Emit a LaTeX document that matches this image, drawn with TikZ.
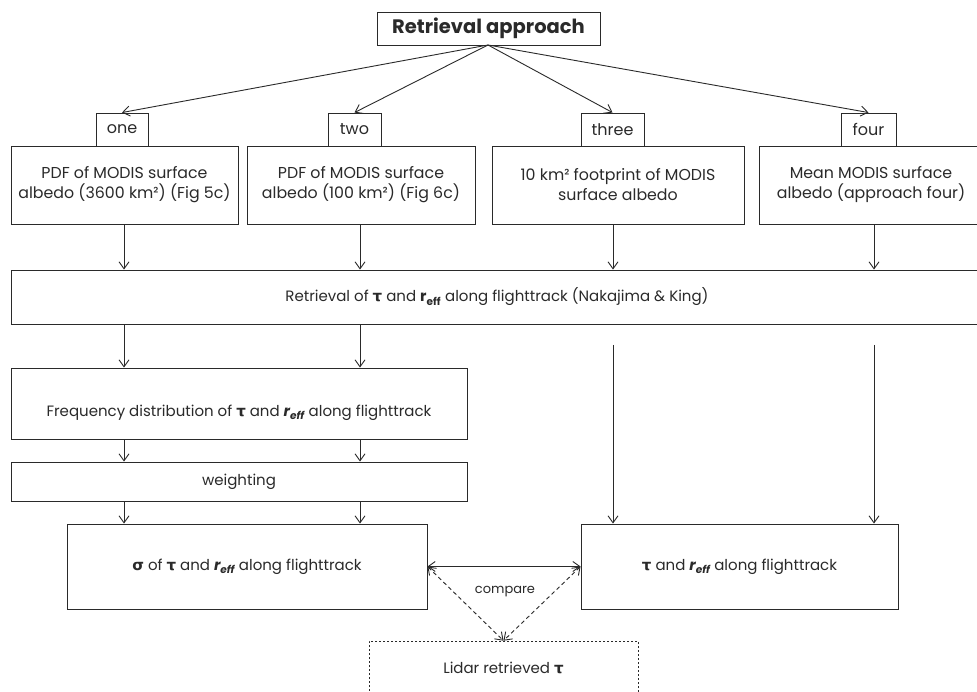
\documentclass[tikz,border=0pt]{standalone}
\usepackage{fontspec}
\setmainfont{Poppins}
\newfontfamily\grk{DejaVu Sans}
\usetikzlibrary{arrows.meta}
\definecolor{ink}{HTML}{2A2A2A}
\newcommand{\tauB}{{\grk\bfseries τ}}
\newcommand{\sigB}{{\grk\bfseries σ}}
\newcommand{\reffB}{{\bfseries r\textsubscript{eff}}}
\newcommand{\reffI}{{\bfseries\itshape r\textsubscript{eff}}}
\begin{document}
\begin{tikzpicture}[x=1pt,y=1pt,
  box/.style={draw=ink,line width=0.9pt,inner sep=0pt,align=center,font=\fontsize{15}{19}\selectfont,text=ink},
  rowbox/.style={box,font=\fontsize{15.8}{20}\selectfont},
  tag/.style={box,font=\fontsize{16}{18}\selectfont},
  arr/.style={draw=ink,line width=0.9pt,-{Straight Barb[length=7pt,width=10pt]}},
  darr/.style={draw=ink,line width=0.9pt,dash pattern=on 4pt off 3pt,{Straight Barb[length=7pt,width=10pt]}-{Straight Barb[length=7pt,width=10pt]}},
  lbl/.style={font=\fontsize{13}{15}\selectfont,text=ink,inner sep=0pt}]
\useasboundingbox (0,0) rectangle (977,-692);
\clip (0,0) rectangle (977,-692);
\fill[white] (0,0) rectangle (977,-692);
% columns
\coordinate (c1) at (124,0);
\coordinate (c2) at (360,0);
\coordinate (c3) at (613,0);
\coordinate (c4) at (874,0);
% nodes
\node[box,minimum width=223pt,minimum height=33pt,font=\fontsize{19.5}{22}\selectfont\bfseries] (top) at (488.5,-28.5) {Retrieval approach};
\node[tag,minimum width=52pt,minimum height=33pt] (one) at (122,-129.5) {one};
\node[tag,minimum width=53pt,minimum height=33pt] (two) at (354.5,-129.5) {two};
\node[tag,minimum width=63pt,minimum height=33pt] (three) at (612.5,-129.5) {three};
\node[tag,minimum width=55pt,minimum height=33pt] (four) at (868.5,-129.5) {four};
\node[rowbox,minimum width=227pt,minimum height=78pt] (b1) at (124.5,-185) {PDF of MODIS surface\\albedo (3600 km²) (Fig 5c)};
\node[rowbox,minimum width=228pt,minimum height=78pt] (b2) at (361,-185) {PDF of MODIS surface\\albedo (100 km²) (Fig 6c)};
\node[rowbox,minimum width=252pt,minimum height=78pt] (b3) at (618,-185) {10 km² footprint of MODIS\\surface albedo};
\node[rowbox,minimum width=224pt,minimum height=78pt] (b4) at (871,-185) {Mean MODIS surface\\albedo (approach four)};
\node[box,minimum width=972pt,minimum height=54pt] (ret) at (497,-297) {Retrieval of \tauB{} and \reffB{} along flighttrack (Nakajima \& King)};
\node[box,minimum width=456pt,minimum height=71pt] (freq) at (239,-403.5) {};
\node[lbl,font=\fontsize{15}{17}\selectfont] (freqt) at (239,-413) {Frequency distribution of \tauB{} and \reffI{} along flighttrack};
\node[box,minimum width=456pt,minimum height=39pt] (wgt) at (239,-481.5) {weighting};
\node[box,minimum width=360pt,minimum height=85pt] (sig) at (247,-566.5) {\sigB{} of \tauB{} and \reffI{} along flighttrack};
\node[box,minimum width=317pt,minimum height=85pt] (tr) at (739.5,-566.5) {\tauB{} and \reffI{} along flighttrack};
\node[draw=ink,line width=0.6pt,dash pattern=on 2pt off 2pt,minimum width=269pt,minimum height=98pt,inner sep=0pt] (lid) at (503.5,-690) {};
\node[lbl,font=\fontsize{15}{17}\selectfont] (lidt) at (503.5,-668) {Lidar retrieved \tauB};
\node[lbl] (cmp) at (505,-592) {compare};
% connectors from top
\coordinate (apex) at (488,-45);
\draw[arr] (apex) -- (one.north);
\draw[arr] (apex) -- (two.north);
\draw[arr] (apex) -- (three.north);
\draw[arr] (apex) -- (four.north);
% row 1 to retrieval
\draw[arr] (b1.south -| c1) -- (ret.north -| c1);
\draw[arr] (b2.south -| c2) -- (ret.north -| c2);
\draw[arr] (b3.south -| c3) -- (ret.north -| c3);
\draw[arr] (b4.south -| c4) -- (ret.north -| c4);
% retrieval to freq
\draw[arr] (ret.south -| c1) -- (freq.north -| c1);
\draw[arr] (ret.south -| c2) -- (freq.north -| c2);
\draw[arr] (freq.south -| c1) -- (wgt.north -| c1);
\draw[arr] (freq.south -| c2) -- (wgt.north -| c2);
\draw[arr] (wgt.south -| c1) -- (sig.north -| c1);
\draw[arr] (wgt.south -| c2) -- (sig.north -| c2);
% long arrows
\coordinate (s3) at (613,-345);
\coordinate (s4) at (874,-345);
\draw[arr] (s3) -- (tr.north -| s3);
\draw[arr] (s4) -- (tr.north -| s4);
% compare
\draw[arr,{Straight Barb[length=7pt,width=10pt]}-{Straight Barb[length=7pt,width=10pt]}] (sig.east) -- (tr.west);
\draw[darr] (sig.east) -- (lid.north);
\draw[darr] (tr.west) -- (lid.north);
\end{tikzpicture}
\end{document}
